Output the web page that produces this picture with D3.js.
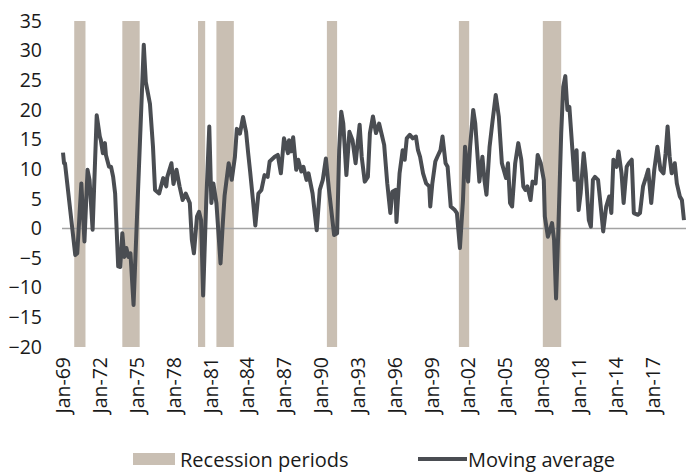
<!DOCTYPE html>
<html>
<head>
<meta charset="utf-8">
<script src="https://cdn.jsdelivr.net/npm/d3@7"></script>
<style>
  body { margin: 0; background: #fff; }
  text { font-family: "Open Sans", sans-serif; fill: #1a1a1a; }
</style>
</head>
<body>
<div id="chart"></div>
<script>
// moving average (month, value)
const avgMonths = [
  "1969-01","1969-02","1969-03","1970-01","1970-03","1970-07","1970-10","1971-01","1971-03","1971-06",
  "1971-10","1972-01","1972-02","1972-04","1972-06","1972-07","1972-10","1972-12","1973-02","1973-04",
  "1973-07","1973-09","1973-11","1974-01","1974-03","1974-05","1974-07","1974-10","1975-08","1975-10",
  "1976-02","1976-05","1976-07","1976-11","1977-03","1977-06","1977-07","1977-11","1978-01","1978-04",
  "1978-07","1978-10","1979-01","1979-05","1979-07","1979-09","1979-12","1980-02","1980-04","1980-06",
  "1980-09","1980-12","1981-02","1981-04","1981-07","1981-11","1982-01","1982-03","1982-07","1982-10",
  "1983-01","1983-03","1983-06","1983-09","1983-12","1984-02","1984-04","1984-07","1984-09","1984-12",
  "1985-03","1985-06","1985-09","1985-11","1986-04","1986-07","1986-10","1987-01","1987-05","1987-06",
  "1987-08","1987-10","1988-01","1988-03","1988-06","1988-08","1988-11","1989-01","1989-05","1989-09",
  "1989-12","1990-03","1990-06","1990-09","1991-02","1991-05","1991-07","1991-09","1991-11","1992-02",
  "1992-05","1992-08","1992-11","1993-01","1993-03","1993-05","1993-08","1993-11","1994-01","1994-04",
  "1994-07","1994-10","1995-01","1995-03","1995-06","1995-09","1995-11","1996-02","1996-03","1996-06",
  "1996-09","1996-11","1997-01","1997-04","1997-07","1997-10","1997-12","1998-02","1998-05","1998-08",
  "1998-11","1998-12","1999-02","1999-05","1999-07","1999-10","1999-12","2000-03","2000-05","2000-08",
  "2000-12","2001-02","2001-05","2001-08","2001-10","2002-01","2002-03","2002-06","2002-08","2002-12",
  "2003-03","2003-05","2003-07","2003-10","2004-01","2004-04","2004-07","2004-10","2005-02","2005-04",
  "2005-06","2005-08","2005-11","2006-02","2006-05","2006-07","2006-09","2006-11","2007-02","2007-04",
  "2007-07","2007-09","2007-12","2008-03","2008-04","2008-07","2008-09","2008-11","2009-01","2009-03",
  "2009-05","2009-08","2009-10","2009-12","2010-02","2010-04","2010-07","2010-09","2010-11","2011-01",
  "2011-03","2011-06","2011-08","2011-11","2012-01","2012-03","2012-05","2012-08","2012-10","2013-01",
  "2013-04","2013-07","2013-09","2013-11","2014-02","2014-04","2014-07","2014-09","2014-12","2015-02",
  "2015-05","2015-07","2015-11","2016-01","2016-04","2016-07","2016-09","2016-12","2017-03","2017-06",
  "2017-09","2017-12","2018-02","2018-04","2018-06","2018-08","2018-11","2019-01","2019-04","2019-06",
  "2019-08"
];
const avgValues = [
  12.8, 11.0, 11.0, -4.5, -4.2, 7.6, -2.2, 9.9, 8.2, -0.2,
  19.1, 15.5, 14.9, 12.7, 14.4, 12.4, 10.4, 10.4, 8.7, 5.9,
  -6.4, -6.5, -0.8, -4.8, -3.3, -4.8, -4.2, -12.9, 31.0, 24.7,
  21.0, 13.8, 6.5, 5.9, 8.5, 7.1, 8.7, 11.0, 7.5, 9.9,
  7.1, 4.8, 5.9, 4.3, -1.9, -4.2, 2.0, 2.8, 1.4, -11.3,
  4.5, 17.2, 4.3, 7.6, 4.3, -5.9, 0.3, 5.5, 11.0, 8.2,
  12.0, 16.8, 16.0, 18.8, 16.3, 12.7, 9.5, 4.3, 0.5, 5.9,
  6.5, 9.0, 8.7, 11.3, 12.1, 12.4, 9.3, 15.2, 12.7, 14.9,
  13.0, 15.4, 9.9, 11.6, 9.6, 10.4, 8.2, 9.3, 5.9, -0.3,
  6.5, 8.2, 11.8, 6.5, -1.1, -0.8, 13.2, 19.7, 17.7, 9.0,
  16.3, 14.9, 11.0, 14.4, 17.5, 12.1, 7.9, 8.7, 16.1, 18.9,
  16.1, 17.7, 15.5, 14.1, 7.6, 2.6, 6.2, 6.5, 1.1, 9.3,
  13.2, 11.6, 15.2, 15.8, 15.2, 15.5, 13.2, 12.1, 9.3, 7.6,
  7.1, 3.7, 7.6, 11.3, 12.1, 13.2, 15.5, 11.0, 10.4, 3.7,
  3.1, 2.6, -3.3, 4.8, 13.8, 7.9, 13.8, 20.0, 17.7, 7.9,
  12.1, 8.2, 5.7, 13.8, 18.3, 22.5, 18.9, 11.0, 8.5, 11.0,
  4.3, 3.7, 11.0, 14.4, 11.6, 7.1, 6.5, 7.1, 4.8, 7.9,
  7.6, 12.4, 11.0, 8.2, 2.0, -1.4, -0.3, 0.9, -1.9, -11.8,
  -1.4, 16.1, 23.9, 25.7, 20.0, 20.5, 13.2, 8.2, 13.2, 3.1,
  5.9, 12.7, 9.3, 1.4, 0.3, 8.2, 8.7, 8.2, 4.8, -0.5,
  3.7, 5.4, 2.6, 11.6, 10.4, 13.0, 9.3, 4.3, 10.4, 11.0,
  11.6, 2.6, 2.3, 2.6, 7.1, 8.7, 9.9, 4.3, 9.9, 13.8,
  9.9, 9.3, 12.7, 17.2, 12.1, 9.3, 11.0, 7.6, 5.4, 4.8,
  1.4
];

// recession periods
const recessionStart = ["1969-12","1973-11","1980-01","1981-07","1990-07","2001-04","2008-02"];
const recessionEnd   = ["1970-11","1975-04","1980-08","1982-12","1991-05","2002-02","2009-08"];

const yTicks = [-20, -15, -10, -5, 0, 5, 10, 15, 20, 25, 30, 35];
const xTickYears = [1969, 1972, 1975, 1978, 1981, 1984, 1987, 1990, 1993, 1996, 1999, 2002, 2005, 2008, 2011, 2014, 2017];

const parseMonth = d3.timeParse("%Y-%m");
const series = avgMonths.map((m, i) => ({date: parseMonth(m), value: avgValues[i]}));
const bands = recessionStart.map((s, i) => ({start: parseMonth(s), end: parseMonth(recessionEnd[i])}));

const width = 686, height = 476;

const svg = d3.select("#chart").append("svg")
    .attr("width", width)
    .attr("height", height);

const x = d3.scaleTime()
    .domain([new Date(1969, 0, 1), new Date(2019, 8, 1)])
    .range([63, 685]);

const y = d3.scaleLinear()
    .domain([-20, 35])
    .range([347, 21]);

// recession bands
svg.append("g")
    .selectAll("rect")
    .data(bands)
    .enter()
    .append("rect")
    .attr("x", d => x(d.start))
    .attr("width", d => x(d.end) - x(d.start))
    .attr("y", y(35))
    .attr("height", y(-20) - y(35))
    .attr("fill", "#c9bfb3");

// zero line
svg.append("line")
    .attr("x1", 62)
    .attr("x2", width)
    .attr("y1", y(0))
    .attr("y2", y(0))
    .attr("stroke", "#a3a3a3")
    .attr("stroke-width", 1.5);

// Y axis
const yAxis = svg.append("g")
    .attr("transform", "translate(42,0)")
    .call(d3.axisLeft(y).tickValues(yTicks).tickSize(0).tickPadding(0));
yAxis.select(".domain").remove();
yAxis.selectAll("text")
    .style("font-size", "19.5px")
    .style("font-family", "'Open Sans', sans-serif")
    .attr("fill", "#1a1a1a");

// X axis, rotated labels
const xAxis = svg.append("g")
    .attr("transform", "translate(0,357)")
    .call(d3.axisBottom(x)
        .tickValues(xTickYears.map(yr => new Date(yr, 0, 1)))
        .tickFormat(d3.timeFormat("Jan-%y"))
        .tickSize(0));
xAxis.select(".domain").remove();
xAxis.selectAll("text")
    .style("font-size", "19.5px")
    .style("font-family", "'Open Sans', sans-serif")
    .attr("fill", "#1a1a1a")
    .attr("text-anchor", "end")
    .attr("transform", "rotate(-90)")
    .attr("x", 0)
    .attr("y", 0)
    .attr("dy", "0.35em");

// the line
svg.append("path")
    .datum(series)
    .attr("fill", "none")
    .attr("stroke", "#4a4d52")
    .attr("stroke-width", 4)
    .attr("stroke-linejoin", "round")
    .attr("d", d3.line()
        .x(d => x(d.date))
        .y(d => y(d.value)));

// legend
const legend = svg.append("g").attr("transform", "translate(0,460)");
legend.append("rect")
    .attr("x", 133).attr("y", -7)
    .attr("width", 42).attr("height", 12)
    .attr("fill", "#c9bfb3");
legend.append("text")
    .attr("x", 180).attr("y", 0).attr("dy", "0.35em")
    .style("font-size", "20px")
    .text("Recession periods");
legend.append("line")
    .attr("x1", 418).attr("x2", 467)
    .attr("y1", -1).attr("y2", -1)
    .attr("stroke", "#4a4d52")
    .attr("stroke-width", 4);
legend.append("text")
    .attr("x", 468).attr("y", 0).attr("dy", "0.35em")
    .style("font-size", "20px")
    .text("Moving average");
</script>
</body>
</html>
